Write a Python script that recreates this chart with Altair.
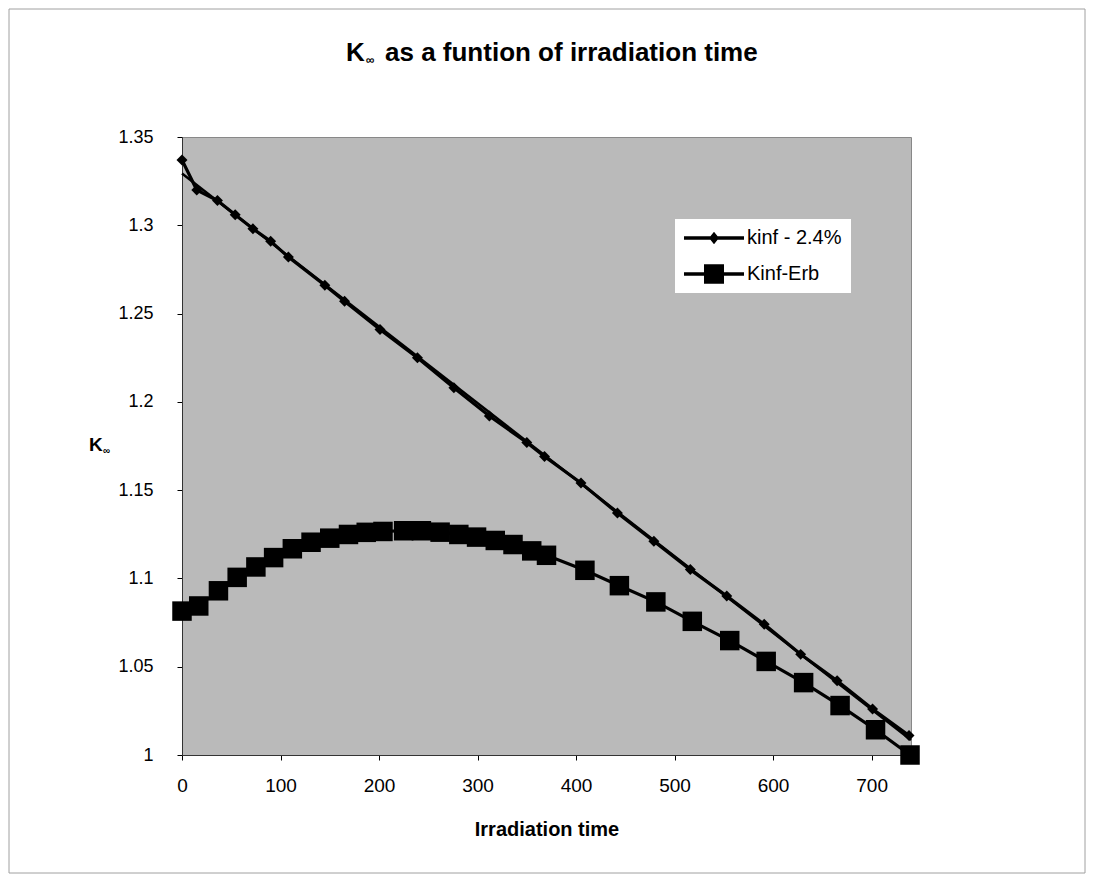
import altair as alt
import pandas as pd

S1 = "kinf - 2.4%"
S2 = "Kinf-Erb"

time_kinf = [0, 15, 36, 54, 72, 90, 108, 145, 165, 201, 239, 276, 312, 350, 368,
             405, 442, 479, 516, 553, 591, 628, 665, 701, 738]
kinf_24 = [1.337, 1.320, 1.314, 1.306, 1.298, 1.291, 1.282, 1.266, 1.257, 1.241,
           1.225, 1.208, 1.192, 1.177, 1.169, 1.154, 1.137, 1.121, 1.105, 1.090,
           1.074, 1.057, 1.042, 1.026, 1.011]

time_erb = [0, 17, 37, 56, 75, 93, 112, 131, 150, 169, 187, 204, 225, 243, 262,
            281, 299, 318, 336, 355, 370, 409, 444, 481, 518, 556, 593, 631, 668,
            704, 739]
kinf_erb = [1.0815, 1.0844, 1.093, 1.1006, 1.1065, 1.1118, 1.1168, 1.1205, 1.1228,
            1.1249, 1.1261, 1.1266, 1.127, 1.127, 1.1262, 1.1249, 1.1234, 1.1215,
            1.1192, 1.1156, 1.1131, 1.1046, 1.0959, 1.0867, 1.0757, 1.0648, 1.053,
            1.041, 1.028, 1.0143, 1.000]

x_ticks = [0, 100, 200, 300, 400, 500, 600, 700]
y_ticks = [1.0, 1.05, 1.1, 1.15, 1.2, 1.25, 1.3, 1.35]

df = pd.concat([
    pd.DataFrame({"time": time_kinf, "k": kinf_24, "series": S1}),
    pd.DataFrame({"time": time_erb, "k": kinf_erb, "series": S2}),
], ignore_index=True)

FONT = "Liberation Sans"
W, H = 729, 618

xs = alt.Scale(domain=[0, 740], nice=False, zero=False)
ys = alt.Scale(domain=[1.0, 1.35], nice=False, zero=False)

x_axis = alt.Axis(values=x_ticks, title="Irradiation time", grid=False,
                  labelFont=FONT, labelFontSize=19, labelColor="black",
                  labelPadding=16, labelFlush=False, labelOverlap=False,
                  tickSize=5, tickColor="black", domainColor="#333333",
                  titleFont=FONT, titleFontSize=20, titleFontWeight="bold",
                  titleColor="black", titleY=80, titleBaseline="alphabetic")
y_axis = alt.Axis(values=y_ticks, format="~g", title=None, grid=False,
                  labelFont=FONT, labelFontSize=18, labelColor="black",
                  labelPadding=24, labelFlush=False, labelOverlap=False,
                  tickSize=5, tickColor="black", domainColor="#333333")

X = alt.X("time:Q", scale=xs, axis=x_axis)
Y = alt.Y("k:Q", scale=ys, axis=y_axis)

base = alt.Chart(df)

border = alt.Chart(pd.DataFrame({"b": [0]})).mark_rect(
    fillOpacity=0, stroke="#a0a0a0", strokeWidth=1
).encode(x=alt.value(-173), x2=alt.value(903), y=alt.value(-128), y2=alt.value(736))

lines = base.mark_line(color="black", strokeWidth=3.2).encode(X, Y, detail="series:N")

trend = base.transform_filter(alt.datum.series == S1).transform_regression(
    "time", "k", extent=[0, 740]
).mark_line(color="black", strokeWidth=2.5).encode(X, Y)

diamonds = base.transform_filter(alt.datum.series == S1).mark_point(
    shape="diamond", filled=True, size=120, color="black", opacity=1
).encode(X, Y)

squares = base.transform_filter(alt.datum.series == S2).mark_point(
    shape="square", filled=True, size=380, color="black", opacity=1
).encode(X, Y)

P1 = "M-1,-0.18L5,-0.18L5,0.18L-1,0.18Z M2,-0.62L2.5,0L2,0.62L1.5,0Z"
P2 = "M-1,-0.18L5,-0.18L5,0.18L-1,0.18Z M1,-0.97L3,-0.97L3,0.97L1,0.97Z"

legend_layer = base.mark_point(filled=True, color="black", opacity=0, size=400).encode(
    X, Y,
    shape=alt.Shape("series:N", scale=alt.Scale(domain=[S1, S2], range=[P1, P2]),
                    legend=alt.Legend(title=None, orient="none", legendX=493, legendY=82,
                                      fillColor="white", padding=9, rowPadding=16,
                                      labelFont=FONT, labelFontSize=20, labelColor="black",
                                      labelOffset=43, symbolSize=400, symbolFillColor="black",
                                      symbolStrokeWidth=0, symbolOpacity=1)),
)

def txt(s, x, y, size, weight="bold"):
    return alt.Chart(pd.DataFrame({"t": [s]})).mark_text(
        align="left", baseline="alphabetic", font=FONT, fontSize=size,
        fontWeight=weight, color="black"
    ).encode(x=alt.value(x), y=alt.value(y), text="t:N")

title_k = txt("K", 164, -76, 26)
title_inf = txt("\u221e", 184, -73, 12)
title_rest = txt("as a funtion of irradiation time", 203, -76, 26)
ytitle_k = txt("K", -93, 314, 19)
ytitle_inf = txt("\u221e", -79, 317, 10)

chart = alt.layer(
    border, lines, trend, diamonds, squares, legend_layer,
    title_k, title_inf, title_rest, ytitle_k, ytitle_inf
).properties(
    width=W, height=H,
    padding={"left": 174, "top": 129, "right": 175, "bottom": 119},
    autosize=alt.AutoSizeParams(type="none"),
).configure(background="white").configure_view(
    fill="#bababa", stroke="#888888", strokeWidth=1
)

chart.save("out.html", embed_options={"renderer": "svg", "actions": False})
